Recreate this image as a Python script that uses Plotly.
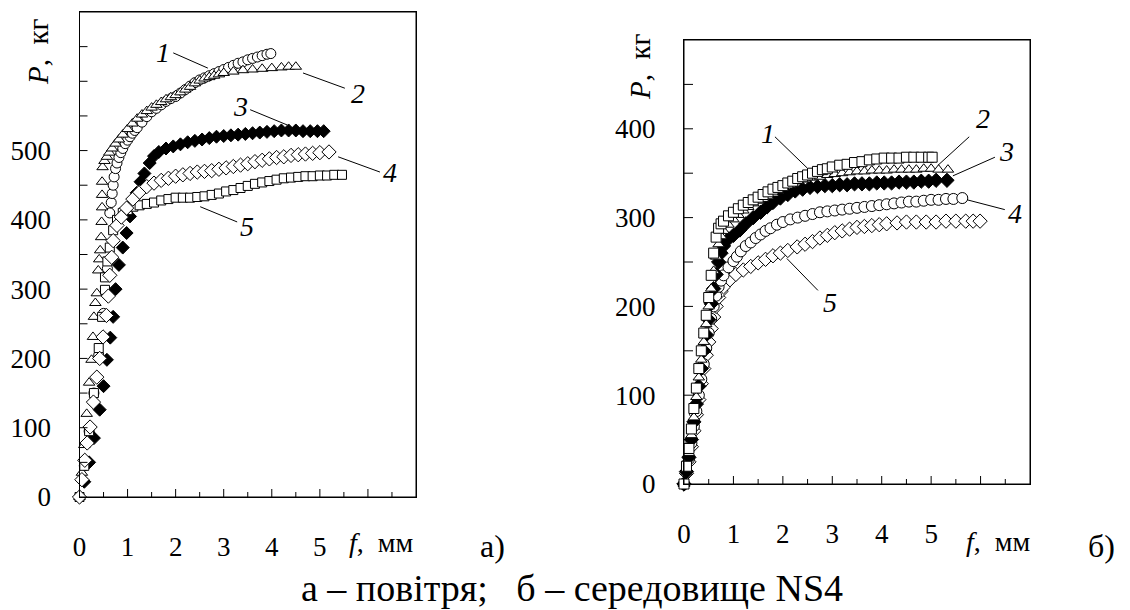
import plotly.graph_objects as go

# ---------------- Panel a) (air) ----------------
a1_x = [0, 0.1, 0.2, 0.3, 0.4, 0.5, 0.58, 0.63, 0.66, 0.68, 0.7, 0.72, 0.75, 0.78, 0.82, 0.86, 0.9, 0.95, 1.0,
        1.05, 1.1, 1.15, 1.2, 1.3, 1.4, 1.5, 1.6, 1.7, 1.8, 1.9, 2.0, 2.1, 2.2, 2.3, 2.4, 2.5, 2.6, 2.7, 2.8,
        2.9, 3.0, 3.1, 3.2, 3.3, 3.4, 3.5, 3.6, 3.7, 3.8, 3.9, 3.98]
a1_y = [0, 45, 95, 150, 205, 265, 330, 410, 425, 438, 450, 462, 474, 482, 490, 497, 503, 510, 515,
        520, 525, 529, 533, 541, 549, 556, 561, 566, 571, 575, 578, 583, 588, 593, 598, 602, 605, 608, 611,
        614, 617, 620, 623, 626, 628, 631, 633, 635, 637, 639, 640]

a2_x = [0, 0.05, 0.1, 0.15, 0.2, 0.25, 0.28, 0.3, 0.33, 0.36, 0.39, 0.41, 0.43, 0.45, 0.46, 0.47, 0.47, 0.47,
        0.48, 0.52, 0.57, 0.62, 0.68, 0.75, 0.82, 0.9, 1.0, 1.1, 1.2, 1.3, 1.4, 1.5, 1.6, 1.7, 1.8, 1.9, 2.0,
        2.1, 2.2, 2.3, 2.4, 2.5, 2.6, 2.7, 2.8, 2.9, 3.0, 3.2, 3.4, 3.6, 3.8, 4.0, 4.2, 4.35, 4.5]
a2_y = [0, 35, 75, 120, 165, 198, 231, 260, 280, 294, 327, 343, 356, 375, 397, 418, 436, 455,
        476, 485, 491, 497, 503, 510, 516, 523, 531, 539, 546, 552, 557, 562, 566, 570, 574, 577, 580,
        584, 588, 592, 597, 601, 604, 606, 608, 610, 612, 614, 616, 617, 618, 619, 620, 621, 621]

a3_x = [0, 0.1, 0.2, 0.3, 0.42, 0.5, 0.57, 0.64, 0.7, 0.75, 0.82, 0.9, 0.98, 1.05, 1.12, 1.19, 1.27, 1.35,
        1.46, 1.55, 1.65, 1.8, 1.95, 2.1, 2.25, 2.4, 2.55, 2.7, 2.85, 3.0, 3.15, 3.3, 3.45, 3.6, 3.75, 3.9,
        4.05, 4.2, 4.35, 4.5, 4.65, 4.8, 4.95, 5.08]
a3_y = [0, 22, 50, 85, 126, 160, 198, 230, 260, 300, 335, 360, 381, 405, 425, 439, 455, 467,
        482, 492, 498, 503, 506, 509, 512, 514, 516, 518, 520, 521, 522, 523, 524, 525, 526, 527,
        528, 529, 529, 529, 528, 528, 528, 528]

a4_x = [0, 0.05, 0.11, 0.16, 0.22, 0.29, 0.36, 0.42, 0.49, 0.56, 0.6, 0.63, 0.67, 0.7, 0.78, 0.87, 0.98, 1.11,
        1.25, 1.4, 1.55, 1.7, 1.85, 2.0, 2.15, 2.3, 2.45, 2.6, 2.75, 2.9, 3.05, 3.2, 3.35, 3.5, 3.65, 3.8,
        3.95, 4.1, 4.25, 4.4, 4.55, 4.7, 4.85, 5.0, 5.19]
a4_y = [0, 25, 53, 78, 101, 137, 173, 200, 231, 262, 290, 320, 346, 370, 392, 404, 417, 430,
        440, 448, 453, 457, 460, 463, 465, 467, 469, 470, 471, 473, 475, 477, 479, 481, 484, 486,
        488, 490, 491, 493, 494, 495, 496, 497, 498]

a5_x = [0, 0.1, 0.2, 0.3, 0.4, 0.47, 0.53, 0.53, 0.58, 0.63, 0.7, 0.78, 0.9, 1.0, 1.12, 1.25, 1.4, 1.55, 1.7,
        1.85, 2.0, 2.15, 2.3, 2.45, 2.6, 2.75, 2.9, 3.05, 3.2, 3.35, 3.5, 3.65, 3.8, 3.95, 4.1, 4.25, 4.4,
        4.55, 4.7, 4.85, 5.0, 5.15, 5.3, 5.46]
a5_y = [0, 45, 95, 150, 215, 260, 299, 317, 340, 360, 385, 400, 410, 414, 419, 421, 423, 425, 428,
        430, 432, 432, 432, 433, 434, 436, 438, 441, 443, 446, 449, 452, 454, 456, 458, 460, 461,
        462, 463, 463, 464, 464, 465, 465]

# ---------------- Panel б) (NS4 medium) ----------------
b1_x = [0, 0.05, 0.1, 0.15, 0.2, 0.25, 0.3, 0.35, 0.4, 0.45, 0.5, 0.55, 0.6, 0.65, 0.7, 0.75, 0.8, 0.9, 1.0,
        1.1, 1.2, 1.3, 1.4, 1.5, 1.6, 1.7, 1.8, 1.9, 2.0, 2.1, 2.2, 2.3, 2.4, 2.5, 2.6, 2.7, 2.8, 2.9, 3.0,
        3.15, 3.3, 3.45, 3.6, 3.75, 3.9, 4.05, 4.2, 4.35, 4.5, 4.65, 4.8, 4.95, 5.02]
b1_y = [0, 20, 40, 62, 85, 108, 130, 150, 170, 190, 210, 235, 260, 278, 288, 293, 296, 302, 306,
        310, 314, 317, 320, 323, 326, 329, 332, 334, 336, 339, 341, 344, 346, 348, 350, 352, 354, 355, 357,
        359, 360, 362, 363, 365, 366, 367, 367, 367, 368, 368, 368, 368, 368]

b2_x = [0, 0.05, 0.1, 0.15, 0.2, 0.25, 0.3, 0.35, 0.4, 0.45, 0.5, 0.55, 0.6, 0.65, 0.7, 0.75, 0.8, 0.9, 1.0,
        1.1, 1.2, 1.3, 1.4, 1.5, 1.6, 1.7, 1.8, 1.9, 2.0, 2.15, 2.3, 2.45, 2.6, 2.75, 2.9, 3.05, 3.2, 3.35,
        3.5, 3.65, 3.8, 3.95, 4.1, 4.25, 4.4, 4.55, 4.7, 4.85, 5.0, 5.15, 5.34]
b2_y = [0, 17, 35, 55, 75, 98, 120, 140, 160, 180, 200, 220, 240, 256, 270, 279, 285, 292, 298,
        303, 308, 312, 316, 319, 321, 324, 327, 330, 333, 337, 341, 343, 345, 346, 348, 349, 350, 351,
        352, 352, 353, 353, 353, 354, 354, 354, 354, 355, 355, 354, 354]

b3_x = [0, 0.05, 0.1, 0.15, 0.2, 0.25, 0.3, 0.35, 0.4, 0.45, 0.5, 0.55, 0.6, 0.65, 0.7, 0.75, 0.8, 0.9, 1.0,
        1.13, 1.25, 1.4, 1.55, 1.68, 1.8, 1.95, 2.1, 2.25, 2.4, 2.55, 2.7, 2.85, 3.0, 3.15, 3.3, 3.45, 3.6,
        3.75, 3.9, 4.05, 4.2, 4.35, 4.5, 4.65, 4.8, 4.95, 5.1, 5.32]
b3_y = [0, 14, 30, 50, 70, 90, 110, 130, 150, 168, 185, 203, 220, 236, 250, 260, 268, 276, 280,
        286, 293, 300, 306, 312, 317, 322, 326, 330, 332, 334, 335, 336, 336, 337, 337, 338, 338,
        338, 339, 339, 339, 340, 340, 340, 341, 341, 342, 342]

b4_x = [0, 0.05, 0.1, 0.15, 0.2, 0.25, 0.3, 0.35, 0.4, 0.45, 0.5, 0.55, 0.6, 0.65, 0.7, 0.75, 0.8, 0.9, 1.0,
        1.07, 1.15, 1.25, 1.35, 1.45, 1.55, 1.65, 1.75, 1.88, 2.0, 2.15, 2.3, 2.45, 2.6, 2.75, 2.9, 3.05,
        3.2, 3.35, 3.5, 3.65, 3.8, 3.95, 4.1, 4.25, 4.4, 4.55, 4.7, 4.85, 5.0, 5.15, 5.3, 5.45, 5.63]
b4_y = [0, 13, 28, 46, 65, 82, 100, 118, 135, 153, 170, 186, 200, 212, 222, 229, 235, 244, 251,
        256, 262, 268, 272, 277, 281, 285, 288, 292, 295, 298, 300, 302, 304, 306, 307, 308,
        309, 310, 311, 312, 313, 314, 315, 316, 317, 318, 318, 319, 320, 320, 321, 321, 322]

b5_x = [0, 0.05, 0.1, 0.15, 0.2, 0.25, 0.3, 0.35, 0.4, 0.45, 0.5, 0.55, 0.6, 0.65, 0.7, 0.75, 0.8, 0.93, 1.05,
        1.2, 1.35, 1.5, 1.65, 1.8, 1.95, 2.1, 2.29, 2.45, 2.6, 2.75, 2.9, 3.05, 3.2, 3.35, 3.5, 3.65, 3.8,
        3.95, 4.1, 4.31, 4.5, 4.7, 4.9, 5.1, 5.3, 5.5, 5.7, 5.85, 5.99]
b5_y = [0, 12, 25, 42, 60, 78, 95, 113, 130, 145, 160, 175, 188, 200, 210, 217, 222, 230, 236,
        241, 245, 249, 253, 257, 260, 263, 267, 270, 273, 277, 280, 283, 285, 287, 289, 290, 291,
        292, 293, 294, 295, 295, 295, 295, 296, 296, 296, 296, 296]

# tick positions / labels
x_ticks = [0, 0.5, 1, 1.5, 2, 2.5, 3, 3.5, 4, 4.5, 5, 5.5, 6, 6.5, 7]
x_ticktext = ["0", "", "1", "", "2", "", "3", "", "4", "", "5", "", "", "", ""]
ya_ticks = [0, 50, 100, 150, 200, 250, 300, 350, 400, 450, 500, 550, 600, 650]
ya_ticktext = ["0", "", "100", "", "200", "", "300", "", "400", "", "500", "", "", ""]
yb_ticks = [0, 50, 100, 150, 200, 250, 300, 350, 400, 450]
yb_ticktext = ["0", "", "100", "", "200", "", "300", "", "400", ""]

FONT = "Liberation Serif, Times New Roman, DejaVu Serif, serif"
W, H = 1130, 610

fig = go.Figure()


def mk(symbol, fill, size):
    return dict(symbol=symbol, size=size, color=fill, line=dict(color="black", width=1))


def add(x, y, symbol, fill, size, xa, ya):
    fig.add_trace(go.Scatter(x=x, y=y, mode="markers", marker=mk(symbol, fill, size),
                             xaxis=xa, yaxis=ya, cliponaxis=False, hoverinfo="x+y"))


# panel a
add(a1_x, a1_y, "circle", "white", 10, "x", "y")
add(a2_x, a2_y, "triangle-up", "white", 10, "x", "y")
add(a3_x, a3_y, "diamond", "black", 10, "x", "y")
add(a5_x, a5_y, "square", "white", 9, "x", "y")
add(a4_x, a4_y, "diamond", "white", 11, "x", "y")
# panel b
add(b5_x, b5_y, "diamond", "white", 11, "x2", "y2")
add(b4_x, b4_y, "circle", "white", 11, "x2", "y2")
add(b3_x, b3_y, "diamond", "black", 11, "x2", "y2")
add(b2_x, b2_y, "triangle-up", "white", 10, "x2", "y2")
add(b1_x, b1_y, "square", "white", 10, "x2", "y2")


def px(x):
    return x / W


def py(y):
    return 1 - y / H


tickfont = dict(family=FONT, size=27, color="black")
common_x = dict(range=[0, 7], tickmode="array", tickvals=x_ticks, ticktext=x_ticktext, ticks="",
                showline=True, linecolor="black", linewidth=1,
                mirror=True, showgrid=False, zeroline=False, tickfont=tickfont, ticklabelstandoff=26,
                automargin=False)
common_y = dict(tickmode="array", ticks="", showline=True,
                linecolor="black", linewidth=1, mirror=True, showgrid=False, zeroline=False,
                tickfont=tickfont, ticklabelstandoff=22, automargin=False)

fig.update_layout(
    width=W, height=H, margin=dict(l=0, r=0, t=0, b=0, autoexpand=False),
    paper_bgcolor="white", plot_bgcolor="white", showlegend=False,
    font=dict(family=FONT, color="black"),
    xaxis=dict(domain=[px(79.5), px(416)], anchor="y", **common_x),
    yaxis=dict(domain=[py(497), py(12)], anchor="x", range=[0, 700], tickvals=ya_ticks,
               ticktext=ya_ticktext, **common_y),
    xaxis2=dict(domain=[px(684), px(1030)], anchor="y2", **common_x),
    yaxis2=dict(domain=[py(484), py(40)], anchor="x2", range=[0, 500], tickvals=yb_ticks,
                ticktext=yb_ticktext, **common_y),
)

lbl_font = dict(family=FONT, size=28, color="black")
ann = []
shapes = []
tick_line = dict(color="black", width=1)

# plot frames and inward tick marks (positioned through the axes' own scales)
for xr, yr, yt, ylen in (("x", "y", ya_ticks, 8), ("x2", "y2", yb_ticks, 9)):
    shapes.append(dict(type="rect", xref=f"{xr} domain", yref=f"{yr} domain", x0=0, x1=1, y0=0, y1=1,
                       line=dict(color="black", width=1), fillcolor="rgba(0,0,0,0)", layer="above"))
    for v in x_ticks[1:-1]:
        L = 8 if float(v).is_integer() else 5
        shapes.append(dict(type="line", xref=xr, yref=f"{yr} domain", x0=v, x1=v,
                           ysizemode="pixel", yanchor=0, y0=0, y1=L, line=tick_line, layer="above"))
    for v in yt[1:]:
        shapes.append(dict(type="line", yref=yr, xref=f"{xr} domain", y0=v, y1=v,
                           xsizemode="pixel", xanchor=0, x0=0, x1=ylen, line=tick_line, layer="above"))

# curve labels and leader lines (data coordinates)
labels_a = [("1", 1.74, 642, (1.95, 641, 2.67, 619)),
            ("2", 5.79, 583, (4.65, 612, 5.52, 590)),
            ("3", 3.34, 563, (3.55, 559, 4.32, 537)),
            ("4", 6.46, 468, (5.38, 491, 6.25, 469)),
            ("5", 3.48, 390, (2.51, 419, 3.28, 397))]
labels_b = [("1", 1.70, 395, (1.84, 391, 2.49, 356)),
            ("2", 6.05, 412, (5.14, 359, 5.77, 391)),
            ("3", 6.53, 374, (5.44, 347, 6.29, 368)),
            ("4", 6.70, 305, (5.73, 320, 6.49, 309)),
            ("5", 2.95, 204, (2.08, 254, 2.71, 218))]
for labels, xr, yr in ((labels_a, "x", "y"), (labels_b, "x2", "y2")):
    for t, lx, ly, (x0, y0, x1, y1) in labels:
        ann.append(dict(text=f"<i>{t}</i>", x=lx, y=ly, xref=xr, yref=yr, showarrow=False,
                        xanchor="center", yanchor="middle", font=lbl_font))
        shapes.append(dict(type="line", x0=x0, y0=y0, x1=x1, y1=y1, xref=xr, yref=yr,
                           line=dict(color="black", width=1)))

sp = "\u00a0"
title_font = dict(family=FONT, size=29, color="black")
paper_ann = [
    dict(text=f"<i>P</i>,{sp}{sp}кг", x=px(38), y=py(52), textangle=-90, font=title_font),
    dict(text=f"<i>P</i>,{sp}{sp}кг", x=px(640), y=py(67), textangle=-90, font=title_font),
    dict(text=f"<i>f</i>,{sp}{sp}мм", x=px(381), y=py(542), font=lbl_font),
    dict(text=f"<i>f</i>,{sp}{sp}мм", x=px(998), y=py(541), font=lbl_font),
    dict(text="а)", x=px(492), y=py(546), font=dict(family=FONT, size=32, color="black")),
    dict(text="б)", x=px(1101), y=py(546), font=dict(family=FONT, size=32, color="black")),
    dict(text=f"а – повітря;{sp}{sp}{sp}б – середовище NS4", x=px(572), y=py(588),
         font=dict(family=FONT, size=38, color="black")),
]
for a in paper_ann:
    a.update(xref="paper", yref="paper", showarrow=False, xanchor="center", yanchor="middle")
ann += paper_ann

fig.update_layout(annotations=ann, shapes=shapes)
fig.write_html("out.html", config={"displayModeBar": False},
               post_script="document.body.style.margin='0px';")
